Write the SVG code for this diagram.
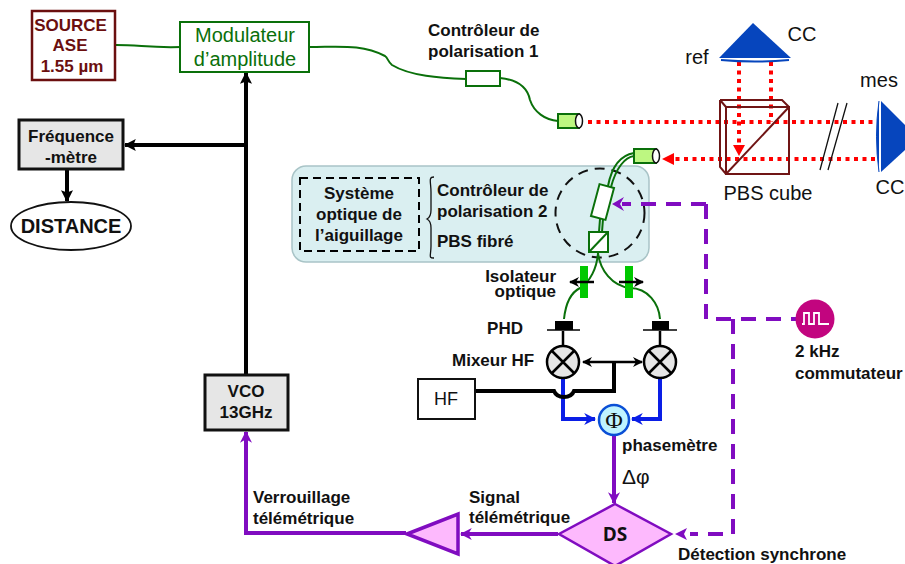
<svg xmlns="http://www.w3.org/2000/svg" width="905" height="564" viewBox="0 0 905 564">
<style>
text{font-family:"Liberation Sans",Arial,sans-serif;font-size:17px;font-weight:bold;fill:#111;text-anchor:middle}
.n{font-weight:normal;font-size:20px}
.l{text-anchor:start}
.e{text-anchor:end}
.src{fill:#6b0f0f}
.mod{fill:#0a700a}
.fib{fill:none;stroke:#0a700a;stroke-width:2}
.col{fill:#bdf781;stroke:#0a700a;stroke-width:2}
.colEnd{fill:#fff;stroke:#111;stroke-width:1.5}
.blk{fill:none;stroke:#000;stroke-width:4}
.blk2{fill:none;stroke:#000;stroke-width:2.5}
.pur{fill:none;stroke:#800cc0;stroke-width:4}
.dash{fill:none;stroke:#800cc0;stroke-width:4;stroke-dasharray:15 10}
.red{fill:none;stroke:#f00;stroke-width:4;stroke-dasharray:4 4.5}
.blu{fill:none;stroke:#0a1ee6;stroke-width:4}
.cc{fill:#0645bd}
.mix{fill:#e6e6e6;stroke:#000;stroke-width:2.5}
.cube{fill:none;stroke:#701515;stroke-width:2}
.iso{fill:#00c800}
</style>
<defs>
<marker id="ab" viewBox="0 0 10 10" refX="9" refY="5" markerWidth="3" markerHeight="3" orient="auto-start-reverse"><path d="M0 0L10 5L0 10L2 5Z" fill="#000"/></marker>
<marker id="ab2" viewBox="0 0 10 10" refX="9" refY="5" markerWidth="4" markerHeight="4" orient="auto-start-reverse"><path d="M0 0L10 5L0 10L3 5Z" fill="#000"/></marker>
<marker id="ap" viewBox="0 0 10 10" refX="9" refY="5" markerWidth="3" markerHeight="3" orient="auto"><path d="M0 0L10 5L0 10L3 5Z" fill="#800cc0"/></marker>
<marker id="ab3" viewBox="0 0 10 10" refX="9" refY="5" markerWidth="3" markerHeight="3" orient="auto"><path d="M0 0L10 5L0 10L3 5Z" fill="#0a1ee6"/></marker>
</defs>

<g id="system-panel">
<rect x="292" y="166" width="357" height="96" rx="14" fill="#daeff1" stroke="#a9c4c7" stroke-width="1.5"/>
<rect x="300" y="178" width="119" height="73" fill="none" stroke="#000" stroke-width="2" stroke-dasharray="8 5"/>
<text x="359" y="199">Système</text>
<text x="359" y="220">optique de</text>
<text x="359" y="241">l’aiguillage</text>
<path d="M434 177C428 177 431 182 431 192V210C431 216 429 218 427 219C429 220 431 222 431 228V246C431 256 428 258 434 258" fill="none" stroke="#111" stroke-width="1.3"/>
<text class="l" x="437" y="196">Contrôleur de</text>
<text class="l" x="437" y="217">polarisation 2</text>
<text class="l" x="437" y="247">PBS fibré</text>
<circle cx="600" cy="213" r="44.500" fill="none" stroke="#111" stroke-width="2" stroke-dasharray="10 7"/>
</g>

<g id="connectors">
<path class="fib" d="M116 45C140 45 150 48 181 47"/>
<path class="fib" d="M310 47C340 47 362 44 385 56C388 58 388 62 392 65C410 76 440 78 466 79"/>
<path class="fib" d="M500 78C520 80 528 90 530 100C534 112 545 120 558 121"/>
<path class="fib" d="M634 153C622 155 612 165 608 186"/>
<path class="fib" d="M634 156C625 157 616 168 611 187"/>
<path class="fib" d="M600 219L599 232M603 219L602 232"/>
<path class="fib" d="M598 253C597 268 590 282 580 288C572 292 566 300 564 319"/>
<path class="fib" d="M598 253C600 270 612 286 630 288C648 288 659 304 660 319"/>

<path class="blk" d="M246 73V375" marker-start="url(#ab)"/>
<path class="blk" d="M246 145H125" marker-end="url(#ab)"/>
<path class="blk" d="M67 168V201" marker-end="url(#ab)"/>

<path class="red" d="M588 122H875"/>
<path class="red" d="M875 159H672"/>
<path d="M662 159L674 153V165Z" fill="#f00"/>
<path class="red" d="M771 62V122"/>
<path class="red" d="M739 62V146"/>
<path d="M739 156L733 145H745Z" fill="#f00"/>

<path class="blk2" d="M563 331V351M660 331V351"/>
<path class="blu" d="M563 378V419H595" marker-end="url(#ab3)"/>
<path class="blu" d="M660 378V419H632" marker-end="url(#ab3)"/>
<path class="blk2" d="M583 362H642" marker-start="url(#ab2)" marker-end="url(#ab2)"/>
<path class="blk" d="M614 363V391H574C572 396 568 397 564 397C560 397 556 396 554 391H476"/>
<path class="pur" d="M614 436V503" marker-end="url(#ap)"/>
<path class="pur" d="M558 534H461" marker-end="url(#ap)"/>
<path class="pur" d="M406 533H246V432" marker-end="url(#ap)"/>
<path class="dash" d="M706 204H622"/>
<path d="M612 204L624 197L620 204L624 211Z" fill="#800cc0"/>
<path class="dash" d="M706 204V319H796"/>
<path class="dash" d="M733 319V534H690"/>
<path d="M675 534L687 528L684 534L687 540Z" fill="#800cc0"/>
</g>

<g id="source"><rect x="32" y="11" width="83" height="69" fill="#fff" stroke="#6b0f0f" stroke-width="2.5"/>
<text class="src" x="70.500" y="31">SOURCE</text>
<text class="src" x="70" y="51">ASE</text>
<text class="src" x="72" y="72">1.55 µm</text></g>

<g id="modulateur"><rect x="180" y="22" width="129" height="50" fill="#fff" stroke="#0a700a" stroke-width="2"/>
<text class="n mod" x="245" y="42">Modulateur</text>
<text class="n mod" x="245" y="66">d’amplitude</text></g>

<g id="frequencemetre"><rect x="19" y="120" width="104" height="49" fill="#e6e6e6" stroke="#111" stroke-width="3"/>
<text x="71" y="142">Fréquence</text><text x="71" y="163">-mètre</text></g>

<g id="distance"><ellipse cx="71" cy="226" rx="60" ry="24" fill="#fff" stroke="#111" stroke-width="1.800"/>
<text x="71" y="233" style="font-size:20px">DISTANCE</text></g>

<g id="controleur1"><rect x="466" y="71" width="34" height="15" fill="#fff" stroke="#0a700a" stroke-width="2"/>
<text class="l" x="428" y="36">Contrôleur de</text><text class="l" x="428" y="57">polarisation 1</text></g>

<g id="collimateur1"><rect x="558" y="114" width="21" height="14" class="col"/><ellipse cx="579" cy="121" rx="3.500" ry="7" class="colEnd"/></g>
<g id="collimateur2"><rect x="634" y="149" width="22" height="14" class="col"/><ellipse cx="656" cy="156" rx="3.500" ry="7" class="colEnd"/></g>

<g id="cc-ref"><path class="cc" d="M753 23L791 58H719Z"/><path d="M721 60Q755 63 789 60" fill="none" stroke="#0645bd" stroke-width="2"/>
<text class="n" x="802" y="41">CC</text>
<text class="n" x="697" y="64">ref</text></g>

<g id="cc-mes"><path class="cc" d="M881 101L905 125V150L881 172Z"/><path d="M879 101Q874 136 879 172" fill="#0645bd" stroke="#0645bd" stroke-width="1"/>
<text class="n" x="879" y="87">mes</text>
<text class="n" x="890" y="194">CC</text></g>

<g id="pbs-cube">
<rect x="726" y="107" width="63" height="67" class="cube"/>
<path class="cube" d="M720 100H782L789 107M720 100L726 107M720 100V167L726 174M726 174L789 107"/>
<text class="n" x="768" y="200">PBS cube</text>
<path d="M820 170L838 103M828 170L847 103" fill="none" stroke="#111" stroke-width="1.300"/>
</g>

<g id="controleur2"><rect x="595" y="185.500" width="15" height="33" fill="#fff" stroke="#0a700a" stroke-width="2" transform="rotate(15 602.500 202)"/></g>
<g id="pbs-fibre"><rect x="589" y="232" width="19" height="20" fill="#fff" stroke="#0a700a" stroke-width="2"/><path d="M589 252L608 232" stroke="#0a700a" stroke-width="2"/></g>

<g id="isolateurs">
<rect x="580" y="266" width="8" height="32" class="iso"/>
<rect x="625" y="266" width="8" height="32" class="iso"/>
<path class="blk2" d="M570 282H594" marker-start="url(#ab2)"/>
<path class="blk2" d="M619 282H643" marker-end="url(#ab2)"/>
<text class="e" x="556" y="282">Isolateur</text><text class="e" x="556" y="297">optique</text>
</g>

<g id="phd">
<rect x="555" y="321" width="18" height="9" fill="#000"/><path d="M547 330H580" stroke="#000" stroke-width="1.500"/>
<rect x="652" y="321" width="17" height="9" fill="#000"/><path d="M643 330H677" stroke="#000" stroke-width="1.500"/>
<text x="505" y="334">PHD</text>
</g>

<g id="mixeurs">
<circle cx="563" cy="362" r="16" class="mix"/><path d="M552 351L574 373M574 351L552 373" stroke="#000" stroke-width="2.500"/>
<circle cx="660" cy="362" r="16" class="mix"/><path d="M649 351L671 373M671 351L649 373" stroke="#000" stroke-width="2.500"/>
<text class="l" x="452" y="366">Mixeur HF</text>
</g>

<g id="hf"><rect x="418" y="379" width="57" height="40" fill="#fff" stroke="#111" stroke-width="2"/>
<text class="n" x="446" y="405" style="font-size:18px">HF</text></g>

<g id="phi"><circle cx="614" cy="420" r="15" fill="#bff3ff" stroke="#0a4fd6" stroke-width="2.500"/>
<text class="n" x="614" y="428" style="font-family:'Liberation Serif',serif;font-size:24px">Φ</text>
<text class="l" x="622" y="451">phasemètre</text>
<text class="n l" x="622" y="484" style="font-size:21px">Δφ</text></g>

<g id="vco"><rect x="205" y="375" width="83" height="55" fill="#e6e6e6" stroke="#111" stroke-width="3"/>
<text x="246" y="397">VCO</text><text x="246" y="418">13GHz</text></g>

<g id="ds"><path d="M615 504L671 534L615 566L559 534Z" fill="#fdb9fd" stroke="#800cc0" stroke-width="2.500"/>
<text x="615" y="541" style="font-size:19px;font-family:'Open Sans','Liberation Sans',sans-serif">DS</text>
<text class="l" x="678" y="560">Détection synchrone</text></g>

<g id="ampli"><path d="M407 534L458 514V554Z" fill="#fdb9fd" stroke="#800cc0" stroke-width="3.500"/>
<text class="l" x="469" y="503">Signal</text><text class="l" x="469" y="523">télémétrique</text>
<text class="l" x="253" y="503">Verrouillage</text><text class="l" x="253" y="524">télémétrique</text></g>

<g id="commutateur"><circle cx="815" cy="319" r="19.500" fill="#c2057f"/>
<path d="M802 324H804V313H809V324H814V313H819V324H824V324H829" fill="none" stroke="#fff" stroke-width="1.800"/>
<text x="795" y="357" class="l">2 kHz</text><text x="795" y="379" class="l">commutateur</text></g>
</svg>
